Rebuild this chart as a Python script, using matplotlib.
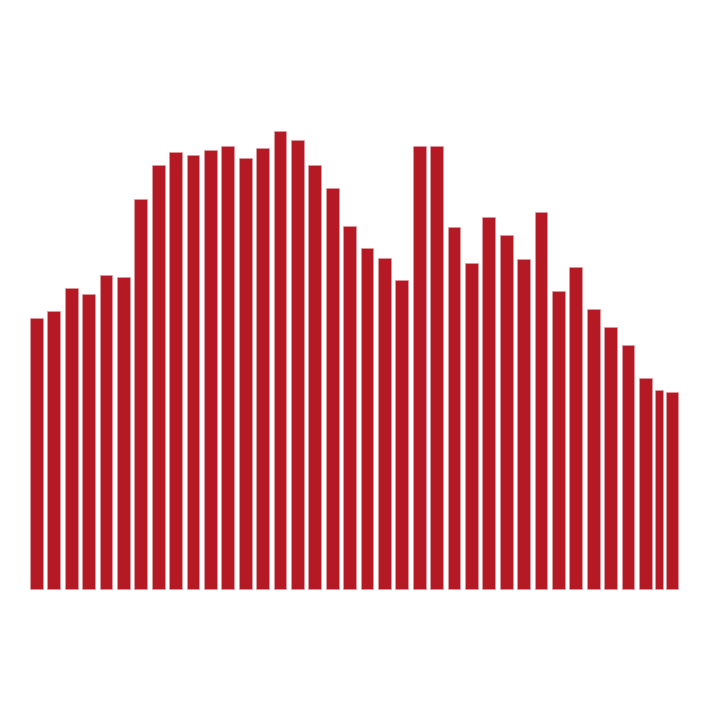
import numpy as np
import matplotlib
matplotlib.use("Agg")
import matplotlib.pyplot as plt

# periodos (posicion en el eje x) y valores
periodos = list(range(36)) + [35.78, 36.51]
valores = [271, 278, 301, 295, 314, 312, 390, 424, 437, 434,
           439, 443, 431, 441, 458, 449, 424, 401, 363, 341,
           331, 309, 443, 443, 362, 326, 372, 354, 330, 377,
           298, 322, 280, 262, 244, 211, 199, 197]
anchos = [0.73] * 36 + [0.44, 0.69]

color_barra = '#b41924'

fig = plt.figure(figsize=(7.04, 7.04), dpi=100)
ax = fig.add_axes([0, 0, 1, 1])
ax.bar(periodos, valores, width=anchos, color=color_barra,
       edgecolor='#d9a0a5', linewidth=0.4)

ax.set_xlim(-2.089, 38.37)
ax.set_ylim(-115, 589)
ax.axis('off')

fig.savefig('out.png', dpi=100, facecolor='white')
